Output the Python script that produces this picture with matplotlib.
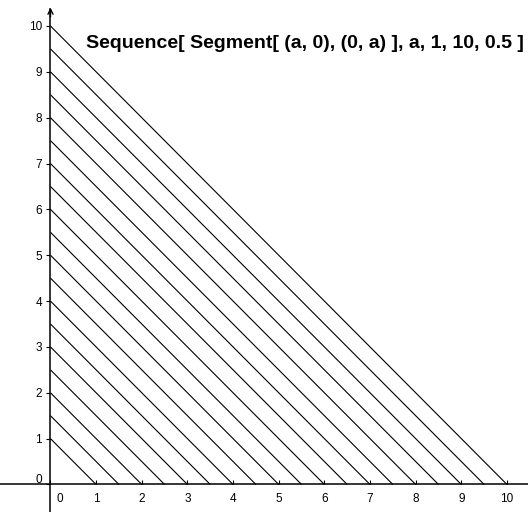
import matplotlib
matplotlib.use("Agg")
import matplotlib.pyplot as plt
import matplotlib.transforms as mtransforms

# sequence parameter values a = 1, 1.5, ..., 10
a_values = [1, 1.5, 2, 2.5, 3, 3.5, 4, 4.5, 5, 5.5, 6, 6.5, 7, 7.5, 8, 8.5, 9, 9.5, 10]
x_ticks = [0, 1, 2, 3, 4, 5, 6, 7, 8, 9, 10]
y_ticks = [0, 1, 2, 3, 4, 5, 6, 7, 8, 9, 10]
title = "Sequence[ Segment[ (a, 0), (0, a) ], a, 1, 10, 0.5 ]"

plt.rcParams["font.family"] = ["Liberation Sans", "DejaVu Sans"]

fig = plt.figure(figsize=(5.28, 5.12), dpi=100)
ax = fig.add_axes([0, 0, 1, 1])
ax.set_xlim(-1.106, 10.46)
ax.set_ylim(-0.60, 10.567)

for a in a_values:
    ax.plot([a, 0], [0, a], color="black", lw=0.8, solid_capstyle="butt")

# axes through the origin
for side in ("top", "right"):
    ax.spines[side].set_visible(False)
ax.spines["left"].set_position(("data", 0))
ax.spines["bottom"].set_position(("data", 0))
ax.spines["left"].set_bounds(-0.6, 10.38)
for s in ("left", "bottom"):
    ax.spines[s].set_linewidth(1.1)
ax.annotate("", xy=(0, 10.4), xytext=(0, 10.2),
            arrowprops=dict(arrowstyle="->", lw=1.0, color="black",
                            mutation_scale=9, shrinkA=0, shrinkB=0))

ax.set_xticks(x_ticks)
ax.set_yticks(y_ticks)
ax.set_xticklabels([str(v) for v in x_ticks])
ax.set_yticklabels([str(v) for v in y_ticks])
ax.tick_params(axis="x", direction="in", length=3, width=0.8, labelsize=8.5, pad=6)
ax.tick_params(axis="y", direction="out", length=3, width=0.8, labelsize=8.5, pad=3)

# GeoGebra puts the 0 labels off the axis crossing
shift_x = mtransforms.ScaledTranslation(9 / 100, 0, fig.dpi_scale_trans)
lbl0 = ax.get_xticklabels()[0]
lbl0.set_transform(lbl0.get_transform() + shift_x)
shift_y = mtransforms.ScaledTranslation(0, 6 / 100, fig.dpi_scale_trans)
lbl0y = ax.get_yticklabels()[0]
lbl0y.set_transform(lbl0y.get_transform() + shift_y)

ax.text(86 / 528, 1 - 44 / 512, title, transform=fig.transFigure,
        ha="left", va="center", fontsize=14, fontweight="bold")

fig.savefig("out.png", dpi=100)
